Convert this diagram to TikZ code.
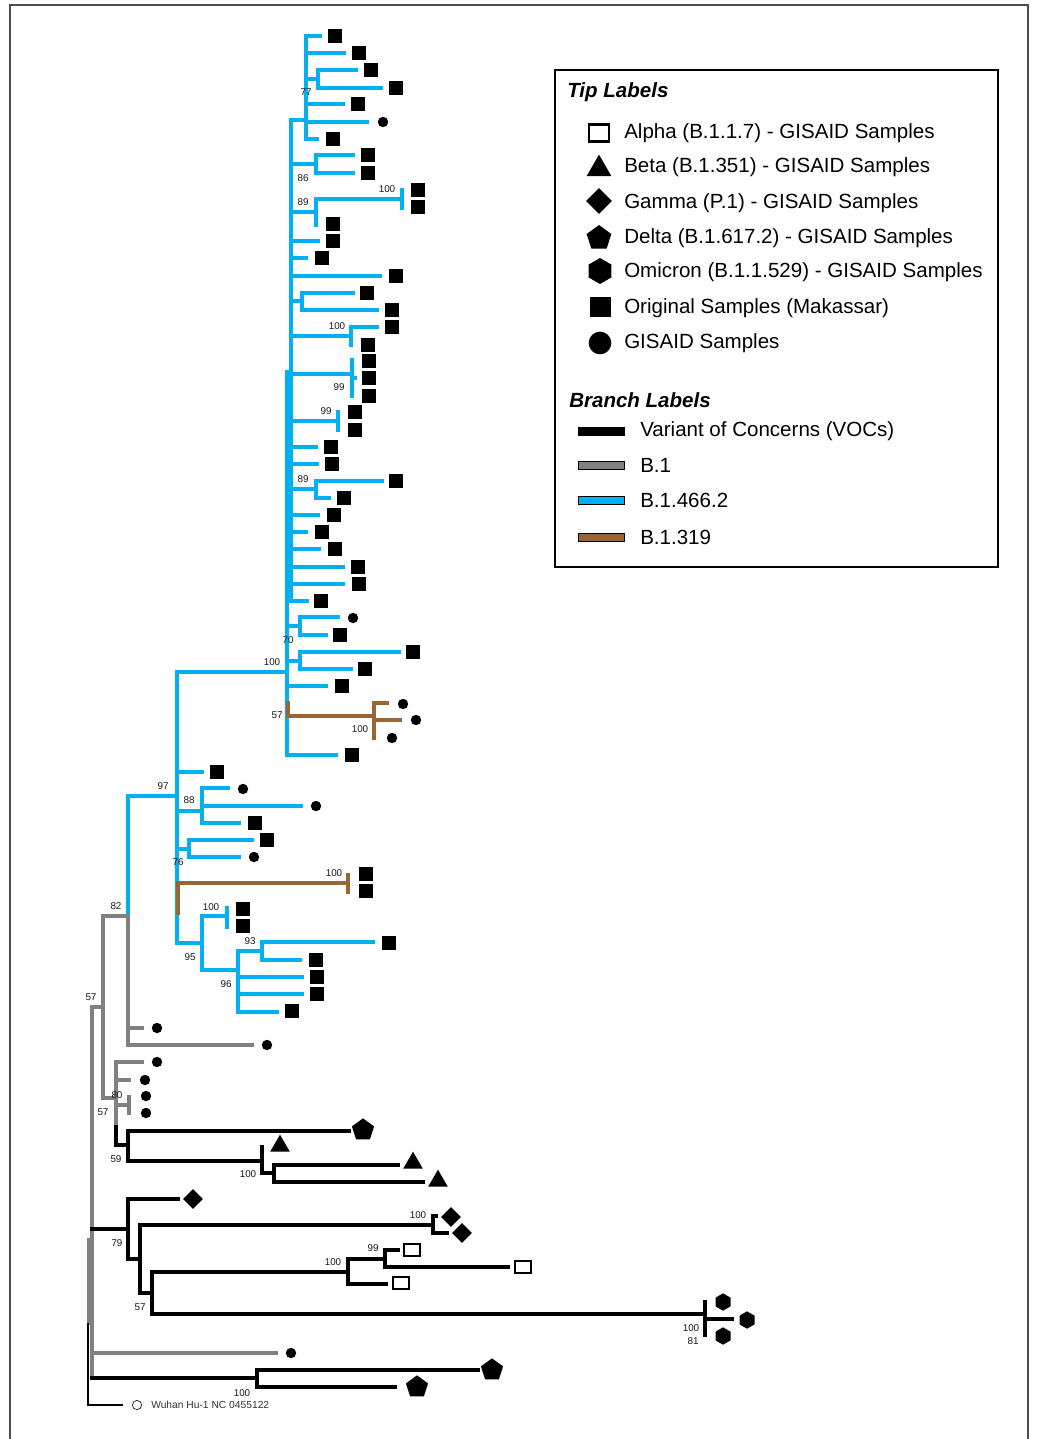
\documentclass[tikz,border=0pt]{standalone}
\usepackage{fontspec}
\setmainfont{Liberation Sans}
\usetikzlibrary{shapes.geometric}
\definecolor{vocBlack}{RGB}{0,0,0}
\definecolor{bOneGrey}{RGB}{128,128,128}
\definecolor{bBlue}{RGB}{0,176,240}
\definecolor{bBrown}{RGB}{155,101,51}
\newcommand{\branchWidth}{2.3pt}
\newcommand{\legendFont}{\fontsize{15.4pt}{18pt}\selectfont}

\tikzset{
	branch/.style={line width=\branchWidth, line cap=rect},
	voc/.style={branch, draw=vocBlack},
	bone/.style={branch, draw=bOneGrey},
	bblue/.style={branch, draw=bBlue},
	bbrown/.style={branch, draw=bBrown},
	support/.style={font=\fontsize{7.4pt}{8pt}\selectfont, text=black!90, inner sep=0pt},
	tipsq/.style={rectangle, fill=black, minimum width=11pt, minimum height=10.5pt, inner sep=0pt},
	tipdot/.style={circle, fill=black, minimum size=7.8pt, inner sep=0pt},
	tippent/.style={regular polygon, regular polygon sides=5, fill=black, minimum size=17.5pt, inner sep=0pt},
	tiptri/.style={regular polygon, regular polygon sides=3, fill=black, minimum size=17pt, inner sep=0pt},
	tipdia/.style={diamond, aspect=1, fill=black, minimum size=15pt, inner sep=0pt},
	tiphex/.style={regular polygon, regular polygon sides=6, shape border rotate=30, fill=black, minimum size=13pt, inner sep=0pt},
	tipopen/.style={rectangle, draw=black, line width=1.6pt, fill=white, minimum width=11.5pt, minimum height=9pt, inner sep=0pt},
	legtext/.style={anchor=west, font=\legendFont, inner sep=0pt},
	leghead/.style={anchor=west, font=\legendFont\bfseries\itshape, inner sep=0pt},
	legbar/.style={draw=black, line width=0.5pt}
}

\begin{document}
\begin{tikzpicture}[x=0.75pt, y=-0.75pt]
	\useasboundingbox (0,0) rectangle (1037,1439);
	\draw[gray!60!black, line width=1.1pt] (10,1439) -- (10,5) -- (1028,5) -- (1028,1439);

	% B.1.466.2, upper clade
	\begin{scope}[bblue]
		\draw (320,36) -| (306,139) -- (317,139);
		\draw (306,53) -- (344,53);
		\draw (306,79) -- (318,79);
		\draw (356,70) -| (318,88) -- (381,88);
		\draw (306,104) -- (343,104);
		\draw (306,122) -- (367,122);
		\draw (306,120) |- (291,120) -- (291,601) -- (307,601);
		\draw (291,164) -- (316,164);
		\draw (353,155) -| (316,173) -- (353,173);
		\draw (291,212) -- (316,212);
		\draw (402,199) -| (316,225);
		\draw (402,190) -- (402,208);
		\draw (291,241) -- (318,241);
		\draw (291,258) -- (306,258);
		\draw (291,276) -- (380,276);
		\draw (291,301) -- (302,301);
		\draw (353,293) -| (302,310) -- (377,310);
		\draw (291,336) -- (351,336);
		\draw (377,327) -| (351,345);
		\draw (291,374) -- (352,374);
		\draw (352,360) -- (352,396);
		\draw (352,378) -- (355,378);
		\draw (291,421) -- (338,421);
		\draw (338,412) -- (338,430);
		\draw (291,447) -- (316,447);
		\draw (291,464) -- (317,464);
		\draw (291,489) -- (316,489);
		\draw (382,481) -| (316,498) -- (329,498);
		\draw (291,515) -- (318,515);
		\draw (291,532) -- (306,532);
		\draw (291,549) -- (319,549);
		\draw (291,567) -- (343,567);
		\draw (291,584) -- (343,584);
		\draw (287,372) -- (287,755) -- (336,755);
		\draw (287,626) -- (300,626);
		\draw (338,617) -| (300,635) -- (326,635);
		\draw (287,661) -- (300,661);
		\draw (399,652) -| (300,669) -- (351,669);
		\draw (177,672) -- (287,672);
		\draw (287,686) -- (326,686);
	\end{scope}
	\begin{scope}[bbrown]
		\draw (288,703) |- (374,716);
		\draw (387,703) -| (374,738);
		\draw (374,720) -- (400,720);
	\end{scope}

	% B.1.466.2, lower clade
	\begin{scope}[bblue]
		\draw (177,672) -- (177,943);
		\draw (128,796) -- (177,796);
		\draw (128,796) -- (128,916);
		\draw (177,772) -- (202,772);
		\draw (177,811) -- (202,811);
		\draw (228,788) -| (202,823) -- (239,823);
		\draw (202,806) -- (301,806);
		\draw (177,849) -- (189,849);
		\draw (252,840) -| (189,857) -- (239,857);
		\draw (177,943) -- (202,943);
		\draw (227,916) -| (202,970) -- (238,970);
		\draw (227,908) -- (227,927);
		\draw (238,951) -- (238,1012) -- (277,1012);
		\draw (238,951) -- (262,951);
		\draw (373,942) -| (262,960) -- (300,960);
		\draw (238,977) -- (302,977);
		\draw (238,994) -- (302,994);
	\end{scope}
	\begin{scope}[bbrown]
		\draw (178,913) |- (348,883);
		\draw (348,875) -- (348,892);
	\end{scope}

	% B.1
	\begin{scope}[bone]
		\draw (103,1098) |- (128,916) -- (128,1045) -- (252,1045);
		\draw (128,1028) -- (142,1028);
		\draw (92,1378) |- (103,1007);
		\draw (103,1098) -- (116,1098);
		\draw (142,1062) -| (116,1127);
		\draw (116,1080) -- (129,1080);
		\draw (116,1105) -- (129,1105);
		\draw (129,1097) -- (129,1113);
		\draw (92,1353) -- (276,1353);
		\draw[line width=2.6pt] (89,1240) -- (89,1323);
	\end{scope}

	% VOCs
	\begin{scope}[voc]
		\draw (116,1127) |- (128,1145);
		\draw (349,1131) -| (128,1161) -- (262,1161);
		\draw (262,1147) |- (274,1173);
		\draw (398,1165) -| (274,1182) -- (423,1182);
		\draw (92,1229) -- (128,1229);
		\draw (178,1199) -| (128,1259) -- (140,1259);
		\draw (433,1225) -| (140,1293) -- (152,1293);
		\draw (436,1216) -| (433,1233) -- (447,1233);
		\draw (348,1272) -| (152,1314) -- (705,1314);
		\draw (385,1259) -| (348,1284) -- (386,1284);
		\draw (398,1250) -| (385,1267) -- (508,1267);
		\draw (705,1302) -- (705,1335);
		\draw (705,1319) -- (732,1319);
		\draw (92,1378) -- (257,1378);
		\draw (478,1370) -| (257,1387) -- (395,1387);
	\end{scope}

	% root
	\draw[line width=0.9pt] (88,1323) |- (123,1405);
	\node[circle, draw=black!80, line width=0.6pt, minimum size=7pt, inner sep=0pt] (wuhan) at (137,1405) {};
	\node[anchor=west, font=\fontsize{7.7pt}{9pt}\selectfont, text=black!80, inner sep=0pt] (wuhanlab) at (151,1405) {Wuhan Hu-1 NC 0455122};

	% tips
	\foreach \x/\y [count=\i] in {335/36,359/53,371/70,396/88,358/104,333/139,368/155,368/173,418/190,418/207,
		333/224,333/241,322/258,396/276,367/293,392/310,392/327,368/345,369/361,369/378,369/396,355/412,355/430,
		331/447,332/464,396/481,344/498,334/515,322/532,335/549,358/567,359/584,321/601,340/635,413/652,365/669,
		342/686,352/755,217/772,255/823,267/840,366/874,366/891,243/909,243/926,389/943,316/960,317/977,317/994,292/1011}
		\node[tipsq] (sq\i) at (\x,\y) {};
	\foreach \x/\y [count=\i] in {383/122,353/618,403/704,416/720,392/738,243/789,316/806,254/857,157/1028,
		267/1045,157/1062,145/1080,146/1096,146/1113,291/1353}
		\node[tipdot] (dot\i) at (\x,\y) {};
	\foreach \x/\y [count=\i] in {363/1130,492/1370,417/1387}
		\node[tippent] (delta\i) at (\x,\y) {};
	\foreach \x/\y [count=\i] in {280/1146,413/1163,438/1181}
		\node[tiptri] (beta\i) at (\x,\y) {};
	\foreach \x/\y [count=\i] in {193/1199,451/1217,462/1233}
		\node[tipdia] (gamma\i) at (\x,\y) {};
	\foreach \x/\y [count=\i] in {412/1250,523/1267,401/1283}
		\node[tipopen] (alpha\i) at (\x,\y) {};
	\foreach \x/\y [count=\i] in {723/1302,747/1320,723/1336}
		\node[tiphex] (omicron\i) at (\x,\y) {};

	% bootstrap values
	\foreach \x/\y/\v [count=\i] in {306/92/77,303/178/86,303/202/89,387/189/100,337/326/100,339/387/99,
		326/411/99,303/479/89,288/640/70,272/662/100,277/715/57,360/729/100,163/786/97,189/800/88,
		178/862/76,334/873/100,116/906/82,211/907/100,250/941/93,190/957/95,226/984/96,91/997/57,
		117/1095/80,103/1112/57,116/1159/59,248/1174/100,418/1215/100,117/1243/79,373/1248/99,
		333/1262/100,140/1307/57,691/1328/100,693/1341/81,242/1393/100}
		\node[support] (bs\i) at (\x,\y) {\v};

	% legend
	\draw[line width=1.5pt] (555,70) rectangle (998,567);
	\node[leghead] (tiphead) at (567,92) {Tip Labels};
	\node[tipopen, minimum width=15pt, minimum height=12.5pt, line width=1.8pt] (lgalpha) at (599,133) {};
	\node[tiptri, minimum size=21.5pt] (lgbeta) at (599,169) {};
	\node[tipdia, minimum size=19.5pt] (lggamma) at (599,201) {};
	\node[tippent, minimum size=19.5pt] (lgdelta) at (599,238) {};
	\node[tiphex, minimum size=19.5pt] (lgomicron) at (600,271) {};
	\node[tipsq, minimum width=15.75pt, minimum height=15pt] (lgorig) at (600,307) {};
	\node[tipdot, minimum size=17pt] (lggisaid) at (600,343) {};
	\node[legtext] (talpha) at (624,133) {Alpha (B.1.1.7) - GISAID Samples};
	\node[legtext] (tbeta) at (624,167) {Beta (B.1.351) - GISAID Samples};
	\node[legtext] (tgamma) at (624,203) {Gamma (P.1) - GISAID Samples};
	\node[legtext] (tdelta) at (624,238) {Delta (B.1.617.2) - GISAID Samples};
	\node[legtext] (tomicron) at (624,272) {Omicron (B.1.1.529) - GISAID Samples};
	\node[legtext] (torig) at (624,308) {Original Samples (Makassar)};
	\node[legtext] (tgisaid) at (624,343) {GISAID Samples};
	\node[leghead] (branchhead) at (569,400) {Branch Labels};
	\draw[legbar, fill=vocBlack] (578,427) rectangle (624,435);
	\draw[legbar, fill=bOneGrey] (578,461) rectangle (624,469);
	\draw[legbar, fill=bBlue] (578,496) rectangle (624,504);
	\draw[legbar, fill=bBrown] (578,533) rectangle (624,541);
	\node[legtext] (tvoc) at (640,431) {Variant of Concerns (VOCs)};
	\node[legtext] (tbone) at (640,465) {B.1};
	\node[legtext] (tblue) at (640,500) {B.1.466.2};
	\node[legtext] (tbrown) at (640,537) {B.1.319};
\end{tikzpicture}
\end{document}
